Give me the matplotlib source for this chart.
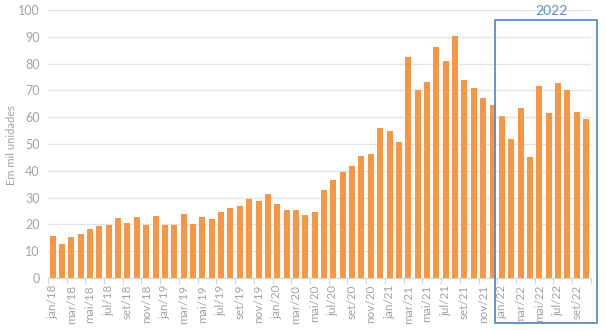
import matplotlib
matplotlib.use("Agg")
import matplotlib.pyplot as plt
from matplotlib.patches import Rectangle

# monthly sales, jan/18 .. out/22 (thousand units)
months = ["jan", "fev", "mar", "abr", "mai", "jun", "jul", "ago", "set", "out", "nov", "dez"]
labels = [f"{m}/{y}" for y in range(18, 23) for m in months][:58]

values = [
    15.6, 12.8, 15.2, 16.3, 18.3, 19.4, 19.9, 22.4, 20.5, 22.9, 19.6, 23.3,   # 2018
    19.9, 19.6, 23.7, 20.3, 22.7, 22.2, 24.8, 26.3, 27.0, 29.5, 28.8, 31.5,   # 2019
    27.8, 25.3, 25.4, 23.4, 24.7, 33.0, 36.6, 39.4, 41.8, 45.5, 46.1, 55.8,   # 2020
    54.9, 50.6, 82.6, 70.1, 73.1, 86.0, 81.1, 90.3, 73.7, 71.0, 67.1, 64.6,   # 2021
    60.4, 51.9, 63.5, 45.2, 71.6, 61.5, 72.6, 70.1, 61.8, 59.3,               # 2022
]

bar_color = "#F79646"
text_gray = "#A3A3A3"
grid_gray = "#E3E3E3"
box_blue = "#5B8DC9"

plt.rcParams["font.family"] = ["Lato", "DejaVu Sans"]

fig = plt.figure(figsize=(6.06, 3.31), dpi=100)
ax = fig.add_axes([0.079, 0.160, 0.896, 0.810])

x = list(range(len(values)))
ax.bar(x, values, width=0.64, color=bar_color, zorder=2)

ax.set_xlim(-0.5, len(values) - 0.5)
ax.set_ylim(0, 100)
ax.set_yticks(range(0, 101, 10))
ax.yaxis.grid(True, color=grid_gray, linewidth=1.0, zorder=0)
ax.tick_params(axis="y", length=0, labelsize=9, labelcolor=text_gray, pad=6)

ax.set_xticks(x[::2])
ax.set_xticklabels(labels[::2], rotation=90, fontsize=8.5, color=text_gray)
ax.tick_params(axis="x", length=0, pad=5)
# small separators under the axis every two months
ax.set_xticks([i - 0.5 for i in x[::2]] + [len(values) - 0.5], minor=True)
ax.tick_params(axis="x", which="minor", length=4, color="#D0D8E4", width=0.8)

for side in ("top", "right", "left"):
    ax.spines[side].set_visible(False)
ax.spines["bottom"].set_color("#D0D8E4")

# y axis title sits close to the left edge, placed in figure coords
fig.text(12 / 606, 1 - 145 / 331, "Em mil unidades", rotation=90, fontsize=8,
         color=text_gray, ha="center", va="center")

# highlight box for 2022
fig.patches.append(Rectangle((495 / 606, 1 - 323 / 331), 102 / 606, 303.5 / 331,
                             transform=fig.transFigure, fill=False,
                             edgecolor=box_blue, linewidth=1.3, zorder=5))
fig.text(551 / 606, 1 - 11 / 331, "2022", color=box_blue, fontsize=10,
         ha="center", va="center")

fig.savefig("out.png", dpi=100)
